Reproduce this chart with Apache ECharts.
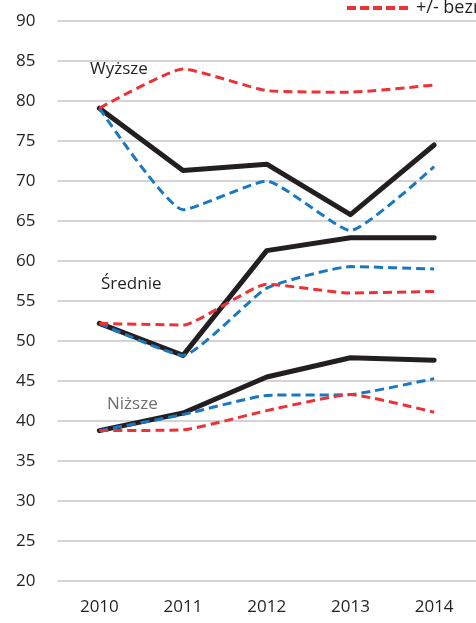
<!DOCTYPE html>
<html><head><meta charset="utf-8">
<script src="https://cdn.jsdelivr.net/npm/echarts@6/dist/echarts.min.js"></script>
<style>html,body{margin:0;padding:0;background:#fff}#c{width:476px;height:623px}</style>
</head><body><div id="c"></div>
<script>
const years = ['2010','2011','2012','2013','2014'];
const yTicks = [20,25,30,35,40,45,50,55,60,65,70,75,80,85,90];
// Wyższe
const wyzszeBlack = [79.1, 71.3, 72.1, 65.8, 74.5];
const wyzszeBlue  = [79.1, 66.4, 70.0, 63.8, 71.8];
const wyzszeRed   = [79.1, 84.0, 81.3, 81.1, 82.0];
// Średnie
const srednieBlack = [52.2, 48.2, 61.3, 62.9, 62.9];
const srednieBlue  = [52.2, 48.2, 56.6, 59.3, 59.0];
const srednieRed   = [52.2, 52.0, 57.1, 56.0, 56.2];
// Niższe
const nizszeBlack = [38.8, 41.0, 45.5, 47.9, 47.6];
const nizszeBlue  = [38.8, 40.8, 43.2, 43.3, 45.3];
const nizszeRed   = [38.8, 38.9, 41.3, 43.3, 41.1];
const legendName = '+/- bezrobocie';

const FONT = '"Open Sans", "Noto Sans", sans-serif';
const black = '#231f20', blue = '#1a78c2', red = '#ed3237';

function blackS(d){return {type:'line',data:d,symbol:'none',smooth:false,z:2,
  lineStyle:{color:black,width:5,cap:'round',join:'round'},itemStyle:{color:black},silent:true};}
function blueS(d){return {type:'line',data:d,symbol:'none',smooth:0.15,z:3,
  lineStyle:{color:blue,width:3,type:[9,5]},itemStyle:{color:blue},silent:true};}
function redS(d){return {type:'line',name:legendName,data:d,symbol:'none',smooth:0.15,z:4,
  lineStyle:{color:red,width:3,type:[9,5]},itemStyle:{color:red},silent:true};}

const chart = echarts.init(document.getElementById('c'), null, {renderer:'canvas'});
chart.setOption({
  animation:false,
  backgroundColor:'#fff',
  grid:{left:57.5, top:21, width:425, height:560, containLabel:false},
  legend:{data:[legendName], left:340, top:-6, itemWidth:64, itemHeight:12, itemGap:6,
    itemStyle:{opacity:0},
    lineStyle:{width:4, type:[9,4]},
    textStyle:{fontFamily:FONT, fontSize:18, color:'#231f20'}},
  xAxis:{type:'category', data:years, boundaryGap:true,
    axisLine:{show:false}, axisTick:{show:false},
    axisLabel:{fontFamily:FONT, fontSize:17, color:'#231f20', margin:18}},
  yAxis:{type:'value', min:yTicks[0], max:yTicks[yTicks.length-1], interval:5,
    axisLine:{show:false}, axisTick:{show:false},
    axisLabel:{fontFamily:FONT, fontSize:17, color:'#231f20', margin:22},
    splitLine:{lineStyle:{color:'#c6c6c8', width:1.5}}},
  graphic:[
    {type:'text', left:90, top:61, style:{text:'Wyższe', font:'17px '+FONT, fill:'#231f20'}},
    {type:'text', left:101, top:276, style:{text:'Średnie', font:'17px '+FONT, fill:'#231f20'}},
    {type:'text', left:107, top:396, style:{text:'Niższe', font:'17px '+FONT, fill:'#6d6e71'}}
  ],
  series:[
    blackS(wyzszeBlack), blackS(srednieBlack), blackS(nizszeBlack),
    blueS(wyzszeBlue), blueS(srednieBlue), blueS(nizszeBlue),
    redS(wyzszeRed), redS(srednieRed), redS(nizszeRed)
  ]
});
</script></body></html>
